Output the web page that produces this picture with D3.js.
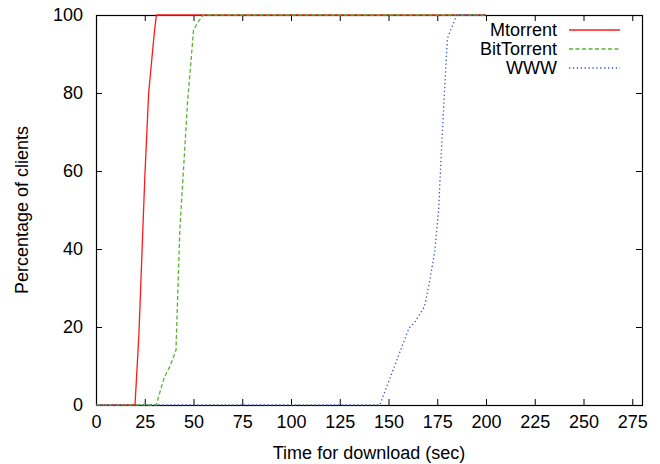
<!DOCTYPE html>
<html>
<head>
<meta charset="utf-8">
<script src="https://cdn.jsdelivr.net/npm/d3@7"></script>
<style>
    body { margin: 0; background: #fff; }
    svg text { font-family: "Liberation Sans", Arial, Helvetica, sans-serif; fill: #000; }
</style>
</head>
<body>
<script>

// tick labels
let xTicks = [0, 25, 50, 75, 100, 125, 150, 175, 200, 225, 250, 275];
let yTicks = [0, 20, 40, 60, 80, 100];

// series names
let seriesNames = ['Mtorrent', 'BitTorrent', 'WWW'];

// time (sec) / percentage of clients
let mtorrentTime = [0, 20, 22, 25, 27, 30, 31, 200];
let mtorrentPct  = [0, 0, 18, 58, 80, 96, 100, 100];

let bittorrentTime = [0, 31, 32, 35, 38, 41, 43, 47, 50, 52, 55, 200];
let bittorrentPct  = [0, 0, 2, 7, 10, 14, 45, 78, 96, 98, 100, 100];

let wwwTime = [0, 145.5, 160.5, 163.7, 168.4, 170.9, 173.7, 175.7, 177.3, 179.1, 180.2, 183, 185, 200];
let wwwPct  = [0, 0, 19.7, 21.4, 25.2, 31.2, 39.3, 50, 67, 84, 94, 97.5, 100, 100];

let width = 660,
    height = 464,
    margins = {top: 15, right: 18, left: 96, bottom: 59};

let styles = [
    {color: '#ff1a1a', dash: null},
    {color: '#55b52e', dash: '4,2.5'},
    {color: '#3a55bb', dash: '1.3,2.6'}
];

let series = [
    mtorrentTime.map((t, i) => ({t: t, v: mtorrentPct[i]})),
    bittorrentTime.map((t, i) => ({t: t, v: bittorrentPct[i]})),
    wwwTime.map((t, i) => ({t: t, v: wwwPct[i]}))
];

let innerW = width - margins.left - margins.right,
    innerH = height - margins.top - margins.bottom;

let svgTop = d3.select('body').append('svg')
    .attr('width', width)
    .attr('height', height);
let svg = svgTop.append('g')
    .attr('transform', `translate(${margins.left},${margins.top})`);

let xScale = d3.scaleLinear().domain([0, 280]).range([0, innerW]),
    yScale = d3.scaleLinear().domain([0, 100]).range([innerH, 0]);

// ticks drawn inward on all four sides, like gnuplot's mirrored tics
let tickLen = 6;
function frameAxis(axisFn, scale, values, transform){
    svg.append('g')
        .attr('transform', transform)
        .call(axisFn(scale).tickValues(values).tickSize(tickLen).tickFormat(''))
        .call(g => g.select('.domain').remove())
        .call(g => g.selectAll('line').attr('stroke', '#000').attr('stroke-width', 1));
}
frameAxis(d3.axisTop, xScale, xTicks, `translate(0,${innerH})`);
frameAxis(d3.axisBottom, xScale, xTicks, 'translate(0,0)');
frameAxis(d3.axisRight, yScale, yTicks, 'translate(0,0)');
frameAxis(d3.axisLeft, yScale, yTicks, `translate(${innerW},0)`);

// tick labels
svg.append('g')
    .attr('transform', `translate(0,${innerH})`)
    .call(d3.axisBottom(xScale).tickValues(xTicks).tickSize(0).tickPadding(10))
    .call(g => g.select('.domain').remove())
    .call(g => g.selectAll('text').style('font-size', '18px'));
svg.append('g')
    .call(d3.axisLeft(yScale).tickValues(yTicks).tickSize(0).tickPadding(13))
    .call(g => g.select('.domain').remove())
    .call(g => g.selectAll('text').style('font-size', '18px'));

svg.append('rect')
    .attr('x', 0.5)
    .attr('y', 0.5)
    .attr('width', innerW)
    .attr('height', innerH)
    .attr('fill', 'none')
    .attr('stroke', '#000')
    .attr('stroke-width', 1.2);

// axis titles
svg.append('text')
    .attr('x', innerW / 2)
    .attr('y', innerH + 54)
    .attr('text-anchor', 'middle')
    .style('font-size', '18px')
    .text('Time for download (sec)');
svg.append('text')
    .attr('transform', `translate(${-margins.left + 28},${innerH / 2}) rotate(-90)`)
    .attr('text-anchor', 'middle')
    .style('font-size', '18px')
    .text('Percentage of clients');

let line = d3.line()
    .x(d => xScale(d.t))
    .y(d => yScale(d.v));

svg.selectAll('path.line')
    .data(series)
    .enter().append('path')
    .classed('line', true)
    .attr('d', line)
    .attr('fill', 'none')
    .attr('stroke', (d, i) => styles[i].color)
    .attr('stroke-width', 1.3)
    .attr('stroke-dasharray', (d, i) => styles[i].dash);

// legend
let legend = svg.append('g')
    .attr('transform', `translate(${557 - margins.left},${30 - margins.top})`);
let rows = legend.selectAll('g')
    .data(seriesNames)
    .enter().append('g')
    .attr('transform', (d, i) => `translate(0,${i * 19})`);
rows.append('text')
    .attr('x', 0)
    .attr('dy', '0.35em')
    .attr('text-anchor', 'end')
    .style('font-size', '18px')
    .text(d => d);
rows.append('line')
    .attr('x1', 12)
    .attr('x2', 63)
    .attr('stroke', (d, i) => styles[i].color)
    .attr('stroke-width', 1.3)
    .attr('stroke-dasharray', (d, i) => styles[i].dash);

</script>
</body>
</html>
